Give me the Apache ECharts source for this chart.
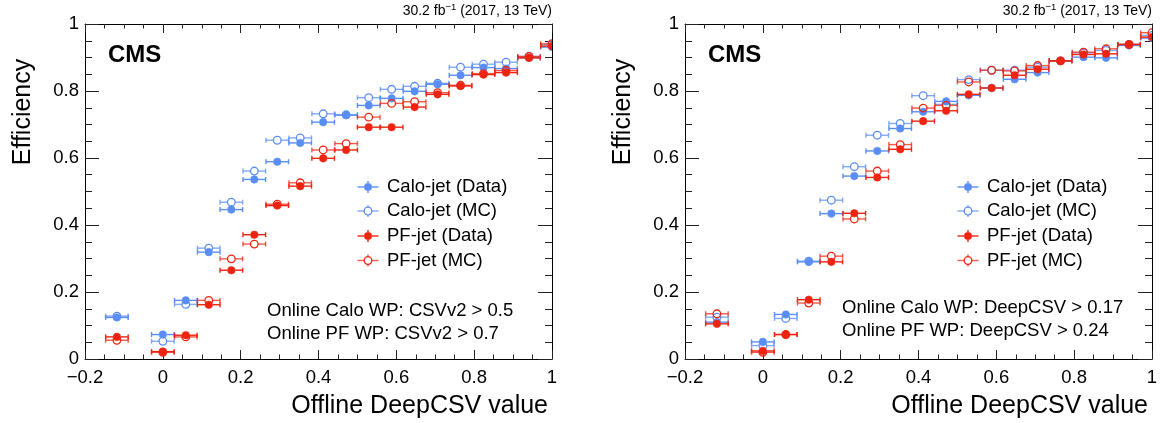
<!DOCTYPE html>
<html>
<head>
<meta charset="utf-8">
<script src="https://cdn.jsdelivr.net/npm/echarts@6/dist/echarts.min.js"></script>
<style>
html,body{margin:0;padding:0;background:#fff;}
#chart{width:1163px;height:423px;}
</style>
</head>
<body>
<div id="chart"></div>
<script>
// ---- data ----
const binCenters = [-0.118, 0, 0.059, 0.118, 0.176, 0.235, 0.294, 0.353, 0.412, 0.471, 0.529, 0.588, 0.647, 0.706, 0.765, 0.824, 0.882, 0.941, 1.0];
const binHalfWidth = 0.029;

// Left panel: online CSVv2 working points
const csvCaloData = [0.124, 0.073, 0.175, 0.319, 0.446, 0.536, 0.589, 0.645, 0.707, 0.728, 0.757, 0.778, 0.799, 0.820, 0.847, 0.870, 0.867, 0.899, 0.931];
const csvCaloMC   = [0.128, 0.053, 0.163, 0.331, 0.468, 0.561, 0.653, 0.660, 0.732, 0.729, 0.780, 0.805, 0.814, 0.823, 0.871, 0.880, 0.886, 0.903, 0.938];
const csvPFData   = [0.066, 0.022, 0.071, 0.162, 0.265, 0.371, 0.458, 0.516, 0.599, 0.624, 0.692, 0.692, 0.752, 0.790, 0.815, 0.849, 0.855, 0.899, 0.934];
const csvPFMC     = [0.056, 0.020, 0.066, 0.175, 0.299, 0.343, 0.462, 0.526, 0.624, 0.643, 0.722, 0.763, 0.768, 0.795, 0.817, 0.852, 0.861, 0.903, 0.941];

// Right panel: online DeepCSV working points
const deepCaloData = [0.110, 0.051, 0.133, 0.290, 0.434, 0.546, 0.621, 0.688, 0.738, 0.769, 0.787, 0.809, 0.835, 0.855, 0.890, 0.901, 0.899, 0.936, 0.958];
const deepCaloMC   = [0.125, 0.040, 0.121, 0.292, 0.474, 0.574, 0.668, 0.703, 0.786, 0.760, 0.834, 0.862, 0.862, 0.871, 0.890, 0.914, 0.921, 0.939, 0.966];
const deepPFData   = [0.105, 0.024, 0.073, 0.177, 0.290, 0.435, 0.542, 0.626, 0.710, 0.741, 0.790, 0.809, 0.847, 0.865, 0.890, 0.909, 0.911, 0.939, 0.961];
const deepPFMC     = [0.135, 0.020, 0.073, 0.167, 0.307, 0.418, 0.561, 0.640, 0.749, 0.757, 0.827, 0.862, 0.860, 0.876, 0.890, 0.916, 0.926, 0.939, 0.974];

const seriesNames = ['Calo-jet (Data)', 'Calo-jet (MC)', 'PF-jet (Data)', 'PF-jet (MC)'];
const leftNotes = ['Online Calo WP: CSVv2 > 0.5', 'Online PF WP: CSVv2 > 0.7'];
const rightNotes = ['Online Calo WP: DeepCSV > 0.17', 'Online PF WP: DeepCSV > 0.24'];
const lumiText = '30.2 fb{sup|\u22121} (2017, 13 TeV)';
const xTitle = 'Offline DeepCSV value';
const yTitle = 'Efficiency';

// ---- styles ----
const BLUE = '#5b8ef4';
const RED = '#ec2410';
const FONT = '"Liberation Sans", Arial, Helvetica, sans-serif';
const styles = [
  {color: BLUE, open: false, opacity: 1},
  {color: BLUE, open: true, opacity: 0.75},
  {color: RED, open: false, opacity: 1},
  {color: RED, open: true, opacity: 0.75}
];

function makeRender(st) {
  return function (params, api) {
    const x = api.value(0), y = api.value(1);
    const c = api.coord([x, y]);
    const l = api.coord([x - binHalfWidth, y]);
    const r = api.coord([x + binHalfWidth, y]);
    const R = 3.8, cap = 2.5;
    const ls = {stroke: st.color, lineWidth: 1.4, opacity: st.opacity};
    return {
      type: 'group',
      children: [
        {type: 'line', shape: {x1: l[0], y1: c[1], x2: c[0] - R, y2: c[1]}, style: ls},
        {type: 'line', shape: {x1: c[0] + R, y1: c[1], x2: r[0], y2: c[1]}, style: ls},
        {type: 'line', shape: {x1: l[0], y1: c[1] - cap, x2: l[0], y2: c[1] + cap}, style: ls},
        {type: 'line', shape: {x1: r[0], y1: c[1] - cap, x2: r[0], y2: c[1] + cap}, style: ls},
        {type: 'circle', shape: {cx: c[0], cy: c[1], r: R},
          style: st.open ? {fill: 'rgba(255,255,255,0)', stroke: st.color, lineWidth: 1.3}
                         : {fill: st.color, stroke: st.color, lineWidth: 0.5}}
      ]
    };
  };
}

function makeSeries(arrs, axisIdx) {
  return arrs.map((vals, i) => ({
    type: 'custom',
    name: seriesNames[i] + axisIdx,
    xAxisIndex: axisIdx,
    yAxisIndex: axisIdx,
    clip: true,
    renderItem: makeRender(styles[i]),
    data: binCenters.map((x, k) => [x, vals[k]]),
    z: 2 + i
  }));
}

function fmt(v) {
  const r = Math.round(v * 10) / 10;
  if (r < 0) return '\u2212' + Math.abs(r);
  return String(r);
}

const grids = [
  {left: 85, top: 24, width: 467, height: 335},
  {left: 685, top: 24, width: 467, height: 335}
];

function xAxes(gi) {
  const base = {
    type: 'value', gridIndex: gi, min: -0.2, max: 1, interval: 0.2,
    axisLine: {show: true, onZero: false, lineStyle: {color: '#000', width: 1}},
    splitLine: {show: false},
    minorTick: {show: true, splitNumber: 4, length: 4.5, lineStyle: {color: '#222', width: 1}},
    axisTick: {show: true, inside: true, length: 9, lineStyle: {color: '#222', width: 1}}
  };
  return [
    Object.assign({}, base, {position: 'bottom',
      axisLabel: {show: true, formatter: fmt, fontSize: 18.5, color: '#000', fontFamily: FONT, margin: 9}}),
    Object.assign({}, base, {position: 'top', axisLabel: {show: false}})
  ];
}
function yAxes(gi) {
  const base = {
    type: 'value', gridIndex: gi, min: 0, max: 1, interval: 0.2,
    axisLine: {show: true, onZero: false, lineStyle: {color: '#000', width: 1}},
    splitLine: {show: false},
    minorTick: {show: true, splitNumber: 4, length: 7, lineStyle: {color: '#222', width: 1}},
    axisTick: {show: true, inside: true, length: 14, lineStyle: {color: '#222', width: 1}}
  };
  return [
    Object.assign({}, base, {position: 'left',
      axisLabel: {show: true, formatter: fmt, fontSize: 18.5, color: '#000', fontFamily: FONT, margin: 6}}),
    Object.assign({}, base, {position: 'right', axisLabel: {show: false}})
  ];
}

function panelGraphics(dx, notes, notesY) {
  const els = [];
  // lumi text
  els.push({type: 'text', x: 552 + dx, y: 11, style: {
    text: lumiText, align: 'right', verticalAlign: 'middle', font: '14px ' + FONT, fill: '#000',
    rich: {sup: {fontSize: 9.5, verticalAlign: 'top', padding: [0, 0, 7, 0], fontFamily: FONT}}}});
  // CMS
  els.push({type: 'text', x: 108 + dx, y: 55, style: {
    text: 'CMS', align: 'left', verticalAlign: 'middle', font: 'bold 24px ' + FONT, fill: '#000'}});
  // axis titles
  els.push({type: 'text', x: 548 + dx, y: 406, style: {
    text: xTitle, align: 'right', verticalAlign: 'middle', font: '25px ' + FONT, fill: '#000'}});
  els.push({type: 'text', x: 23 + dx, y: 112, rotation: Math.PI / 2, style: {
    text: yTitle, align: 'center', verticalAlign: 'middle', font: '25px ' + FONT, fill: '#000'}});
  // legend
  const ly = [187, 211, 236, 260.5];
  for (let i = 0; i < 4; i++) {
    const st = styles[i];
    const cx = 368 + dx, cy = ly[i];
    const ls = {stroke: st.color, lineWidth: 1.4, opacity: st.opacity};
    els.push({type: 'line', shape: {x1: cx - 10.5, y1: cy, x2: cx - 4, y2: cy}, style: ls});
    els.push({type: 'line', shape: {x1: cx + 4, y1: cy, x2: cx + 10.5, y2: cy}, style: ls});
    els.push({type: 'line', shape: {x1: cx, y1: cy - 6, x2: cx, y2: cy - 4}, style: ls});
    els.push({type: 'line', shape: {x1: cx, y1: cy + 4, x2: cx, y2: cy + 6}, style: ls});
    els.push({type: 'circle', shape: {cx: cx, cy: cy, r: 3.8},
      style: st.open ? {fill: '#fff', stroke: st.color, lineWidth: 1.3} : {fill: st.color, stroke: st.color, lineWidth: 0.5}});
    els.push({type: 'text', x: 387 + dx, y: cy, style: {
      text: seriesNames[i], align: 'left', verticalAlign: 'middle', font: '18.5px ' + FONT, fill: '#000'}});
  }
  // notes
  notes.forEach((t, i) => {
    els.push({type: 'text', x: (dx ? 842 : 267), y: notesY[i], style: {
      text: t, align: 'left', verticalAlign: 'middle', font: '18.5px ' + FONT, fill: '#000'}});
  });
  return els;
}

const chart = echarts.init(document.getElementById('chart'), null, {renderer: 'canvas'});
chart.setOption({
  animation: false,
  backgroundColor: '#fff',
  grid: grids,
  xAxis: xAxes(0).concat(xAxes(1)),
  yAxis: yAxes(0).concat(yAxes(1)),
  series: makeSeries([csvCaloData, csvCaloMC, csvPFData, csvPFMC], 0)
    .concat(makeSeries([deepCaloData, deepCaloMC, deepPFData, deepPFMC], 2)),
  graphic: panelGraphics(0, leftNotes, [311, 333.5]).concat(panelGraphics(600, rightNotes, [308, 331]))
});
</script>
</body>
</html>
